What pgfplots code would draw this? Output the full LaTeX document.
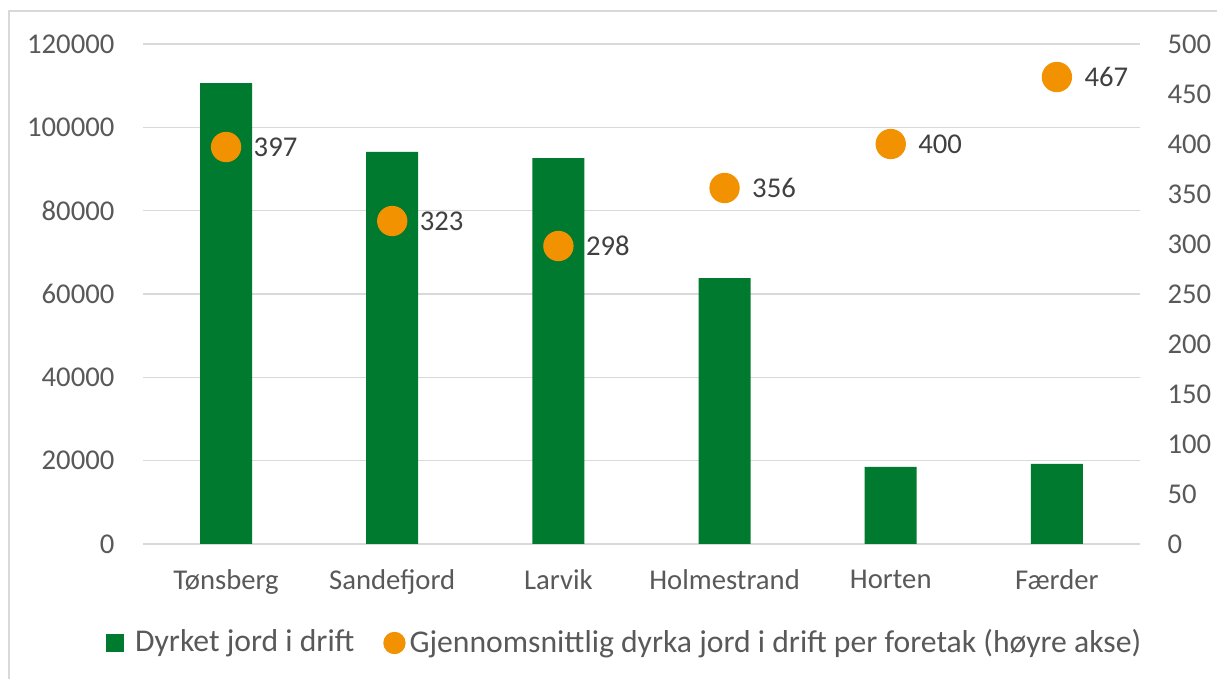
\documentclass[border=0pt]{standalone}
\usepackage{fontspec}
\setmainfont{Carlito}
\usepackage{pgfplots}
\pgfplotsset{compat=1.18}
\definecolor{bargreen}{HTML}{007A2E}
\definecolor{dotorange}{HTML}{F39200}
\definecolor{ticktext}{HTML}{595959}
\definecolor{labeltext}{HTML}{404040}
\definecolor{gridgray}{HTML}{D9D9D9}
\newcommand{\cfont}{\fontsize{8.6pt}{10.3pt}\selectfont}
\newcommand{\lfont}{\fontsize{9.5pt}{11.4pt}\selectfont}
\begin{document}
\cfont
\begin{tikzpicture}
\useasboundingbox (-42.9pt,-40.5pt) rectangle (322.2pt,163.2pt);
\fill[white] (-42.9pt,-40.5pt) rectangle (322.2pt,163.2pt);
\draw[gridgray, line width=0.45pt] (-40.2pt,-40.5pt) -- (-40.2pt,159.9pt) -- (322.2pt,159.9pt);
\pgfplotsset{
  common/.style={
    width=299.1pt, height=150pt, scale only axis,
    xmin=-0.5, xmax=5.5,
    axis line style={draw=none},
    major tick length=0pt,
    tick label style={font=\cfont, text=ticktext, inner sep=0pt},
    /pgf/number format/fixed,
    /pgf/number format/assume math mode=true,
    /pgf/number format/1000 sep={},
  }
}
\begin{axis}[common,
  ymin=0, ymax=120000, ytick={0,20000,...,120000},
  scaled y ticks=false,
  ymajorgrids, grid style={gridgray, line width=0.45pt},
  xtick={0,...,5},
  xticklabels={Tønsberg,Sandefjord,Larvik,Holmestrand,Horten,Færder},
  xticklabel style={yshift=-7.5pt},
  yticklabel style={xshift=-8.4pt},
  ybar, bar width=15.6pt,
]
\addplot[fill=bargreen, draw=none] coordinates {(0,110600) (1,94100) (2,92600) (3,63800) (4,18500) (5,19200)};
\end{axis}
\begin{axis}[common,
  ymin=0, ymax=500, ytick={0,50,...,500},
  axis y line*=right, hide x axis,
  yticklabel style={anchor=west, xshift=8.1pt},
  legend style={at={(0.482,-0.198)}, anchor=center, draw=none, fill=none,
    legend columns=2, font=\lfont, text=ticktext,
    nodes={inner sep=0pt},
    /tikz/every even column/.append style={column sep=8.7pt}},
]
\addlegendimage{legend image code/.code={\fill[bargreen] (0pt,-2.55pt) rectangle (5.1pt,2.55pt); \path (8.4pt,0pt);}}
\addlegendimage{legend image code/.code={\fill[dotorange] (3.15pt,0pt) circle[radius=3.15pt]; \path (7.5pt,0pt);}}
\addplot[only marks, mark=*, mark size=4.35pt, color=dotorange, forget plot,
  nodes near coords,
  nodes near coords style={anchor=west, xshift=8.1pt, text=labeltext, inner sep=0pt, font=\cfont}]
  coordinates {(0,397) (1,323) (2,298) (3,356) (4,400) (5,467)};
\legend{Dyrket jord i drift, Gjennomsnittlig dyrka jord i drift per foretak (høyre akse)}
\end{axis}
\end{tikzpicture}
\end{document}
